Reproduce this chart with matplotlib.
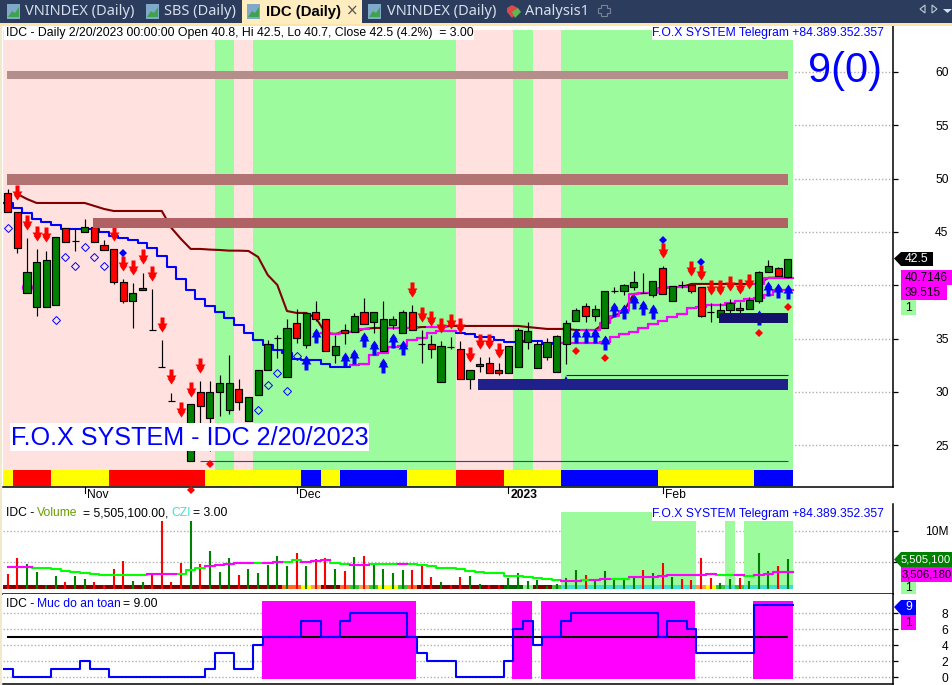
import matplotlib
matplotlib.use('Agg')
import matplotlib.pyplot as plt
from matplotlib.patches import Rectangle, Polygon
from matplotlib.path import Path

# open, high, low, close per daily bar
opens = [48.7, 46.85, 39.3, 38.0, 38.0, 38.15, 45.4, 44.2, 45.0, 45.45, 43.8, 43.4, 40.3, 38.55, 39.55, 35.8, 32.35, 29.15, 25.7, 23.5,
         30.0, 27.55, 30.0, 28.3, 30.3, 27.3, 29.7, 32.05, 35.05, 31.4, 36.45, 34.4, 37.5, 36.85, 33.45, 35.8, 35.6, 37.5, 36.55, 33.85,
         36.3, 35.55, 37.5, 34.5, 34.5, 30.95, 34.2, 34.0, 31.2, 32.45, 32.75, 32.05, 31.8, 32.35, 34.7, 32.25, 33.3, 31.85, 34.5, 36.65,
         38.05, 37.1, 36.0, 39.45, 39.45, 39.85, 39.3, 39.1, 41.6, 38.55, 40.05, 40.05, 39.85, 37.5, 37.05, 37.7, 37.9, 37.8, 38.55, 41.25,
         41.6, 40.8]
highs = [49.0, 46.85, 44.45, 43.4, 43.2, 44.55, 45.4, 45.3, 46.2, 45.95, 44.25, 43.4, 40.6, 40.2, 41.15, 39.65, 34.9, 29.9, 26.2, 28.9,
         31.0, 31.0, 31.6, 33.45, 31.2, 29.5, 32.05, 34.85, 35.35, 36.85, 37.8, 37.4, 38.55, 36.85, 35.35, 36.35, 37.4, 38.8, 37.5, 38.55,
         37.15, 37.7, 38.15, 35.8, 35.35, 34.8, 35.15, 34.8, 32.05, 33.3, 33.3, 32.75, 34.3, 36.0, 36.55, 34.85, 35.05, 35.3, 36.75, 37.9,
         38.35, 38.15, 39.5, 39.85, 40.1, 41.35, 41.15, 40.4, 41.8, 39.95, 40.4, 40.05, 39.85, 38.35, 38.35, 38.7, 38.45, 38.9, 41.35, 42.4,
         41.7, 42.5]
lows = [46.85, 43.05, 39.3, 37.1, 38.0, 38.15, 44.05, 43.2, 45.0, 44.05, 43.3, 40.1, 38.35, 36.0, 39.55, 35.8, 32.35, 29.15, 25.4, 23.5,
        27.0, 24.5, 27.75, 27.95, 28.3, 27.3, 29.7, 32.05, 33.2, 31.4, 34.6, 34.1, 36.65, 33.85, 32.75, 34.5, 35.6, 36.4, 35.55, 33.85,
        35.9, 35.55, 35.8, 32.75, 33.2, 30.95, 34.0, 31.2, 30.3, 31.85, 31.8, 31.6, 31.8, 32.35, 34.0, 32.25, 33.0, 31.85, 32.65, 36.65,
        36.55, 36.65, 36.0, 39.3, 39.1, 39.55, 39.3, 38.9, 39.2, 38.55, 39.75, 39.3, 37.0, 36.55, 37.05, 37.4, 37.0, 37.8, 38.35, 41.25,
        40.85, 40.7]
closes = [46.85, 43.5, 41.25, 42.2, 42.4, 44.55, 44.05, 44.2, 45.45, 44.05, 43.3, 40.3, 38.55, 39.3, 39.75, 35.8, 32.35, 29.15, 25.7, 28.9,
          28.7, 30.0, 30.85, 30.85, 29.05, 29.5, 32.05, 34.5, 35.05, 36.0, 35.05, 37.4, 36.85, 33.85, 34.3, 35.5, 37.1, 36.4, 37.5, 36.85,
          36.85, 37.5, 35.8, 34.5, 34.05, 34.3, 34.2, 31.2, 32.05, 32.65, 31.8, 31.8, 34.3, 35.8, 35.7, 34.5, 34.7, 35.25, 36.45, 37.7,
          37.1, 37.8, 39.45, 39.45, 40.05, 40.3, 39.3, 40.4, 39.2, 39.95, 40.05, 39.45, 37.1, 37.5, 37.7, 38.35, 37.7, 38.6, 41.25, 41.8,
          40.85, 42.5]

# trailing stops, coloured blue / magenta / dark red by state
stop_fast = [47.72, 47.25, 46.78, 46.22, 45.94, 45.66, 45.28, 45.28, 45.28, 45.28, 45.0, 44.63, 44.44, 44.25, 43.97, 43.5, 42.75, 41.72, 40.59, 39.56,
             38.72, 38.06, 37.5, 36.94, 36.28, 35.53, 34.88, 34.41, 33.94, 33.66, 33.09, 33.0, 33.0, 32.63, 32.34, 32.34, 32.53, 32.63, 33.47, 33.66,
             34.22, 34.31, 34.88, 35.06, 35.53, 35.72, 35.72, 35.53, 35.44, 35.16, 35.16, 34.88, 34.69, 34.69, 34.78, 34.78, 34.5, 34.59, 34.59, 34.59,
             34.59, 34.59, 34.69, 35.16, 35.44, 35.63, 36.0, 36.38, 36.66, 37.03, 37.31, 37.88, 37.97, 38.16, 38.16, 38.34, 38.53, 38.72, 38.81, 39.09,
             39.56, 39.56]
fast_magenta_runs = [(36, 47), (58, 82)]
stop_slow = [48.56, 48.09, 47.72, 47.72, 47.72, 47.72, 47.72, 47.72, 47.44, 47.16, 46.97, 46.97, 46.97, 46.97, 46.97, 46.97, 45.38, 44.34, 43.41, 43.41,
             43.35, 43.31, 43.25, 43.25, 43.22, 42.66, 40.97, 40.03, 37.59, 37.41, 37.41, 36.94, 35.53, 35.44, 35.63, 35.63, 35.91, 36.0, 36.0, 36.0,
             36.0, 36.0, 36.09, 36.09, 36.09, 36.19, 36.19, 36.19, 36.19, 36.19, 36.19, 36.19, 36.19, 36.09, 36.0, 35.91, 35.91, 35.91, 35.81, 35.81,
             35.81, 36.47, 37.13, 37.59, 39.19, 39.28, 39.28, 39.75, 39.84, 39.84, 40.13, 40.13, 40.13, 40.13, 40.13, 40.13, 40.13, 40.13, 40.71, 40.71,
             40.71]
slow_first_bar = 1
slow_magenta_runs = [(33, 38), (40, 43), (44, 46), (60, 71), (78, 82)]

sell_bars = [1, 2, 3, 4, 11, 12, 13, 14, 15, 16, 17, 18, 19, 20, 42, 43, 44, 45, 46, 47, 48, 49, 50, 51, 68, 71, 72, 73, 74, 75, 76, 77]
sell_tips = [48.0, 45.19, 44.16, 44.06, 44.16, 41.34, 40.97, 42.0, 40.41, 35.63, 30.75, 27.66, 29.53, 31.78, 38.91, 36.56, 36.19, 35.53, 35.91, 35.53,
             32.81, 34.03, 34.03, 33.19, 42.56, 40.88, 40.5, 39.09, 39.09, 39.47, 39.19, 39.66]
buy_bars = [31, 32, 35, 36, 37, 38, 39, 40, 41, 59, 60, 61, 62, 63, 64, 65, 66, 67, 78, 79, 80, 81]
buy_tips = [33.47, 36.0, 33.75, 34.03, 35.63, 34.88, 33.19, 35.53, 34.88, 36.0, 36.0, 36.0, 35.34, 38.44, 38.25, 39.19, 38.63, 38.25, 37.69, 40.41,
            40.22, 40.13]
hollow_bars = [0, 5, 6, 7, 8, 9, 10, 26, 27, 28, 29, 30]
hollow_vals = [45.38, 36.75, 42.66, 41.81, 43.59, 42.66, 41.81, 28.31, 30.66, 31.78, 30.09, 33.38]
blue_dot_bars = [12, 68, 72]
blue_dot_vals = [43.03, 44.25, 42.19]
red_dot_bars = [19, 21, 59, 62, 78, 81]
red_dot_vals = [20.8, 23.25, 33.84, 33.19, 35.53, 37.97]

# horizontal zones: low, high, first bar, last bar
zone_lo = [59.34, 49.4, 45.35, 30.2, 36.5]
zone_hi = [60.09, 50.45, 46.3, 31.25, 37.4]
zone_from = [-0.07, -0.07, 8.86, 48.85, 73.9]
zone_to = [81, 81, 81, 81, 81]
zone_colours = ['#B38E8A', '#B27472', '#B06163', '#20208A', '#12126A']

support_levels = [31.6, 23.5]
support_from = [58, 20]

regime_green = [(21.5, 23.5), (25.5, 46.5), (52.5, 54.5), (57.5, 81.5)]

ribbon_names = ['y', 'r', 'y', 'r', 'y', 'b', 'y', 'b', 'y', 'r', 'y', 'b', 'y', 'b']
ribbon_lengths = [1, 4, 6, 10, 10, 2, 2, 7, 5, 5, 6, 10, 10, 4]

volumes = [3.08, 5.63, 4.67, 3.4, 1.37, 2.76, 1.8, 2.76, 2.28, 1.8, 1.37, 3.93, 5.15, 1.96, 1.8, 2.92, 11.6, 1.8, 4.83, 11.6,
           4.67, 6.8, 3.4, 5.63, 2.97, 3.93, 3.24, 4.57, 5.95, 4.35, 6.43, 4.35, 5.53, 5.63, 3.93, 3.56, 5.85, 6.0, 4.83, 3.93,
           3.24, 3.77, 3.72, 4.35, 2.6, 1.8, 1.37, 2.6, 2.76, 1.48, 1.37, 1.37, 2.54, 3.24, 2.01, 2.17, 1.16, 1.59, 2.44, 3.77,
           2.97, 2.33, 3.61, 2.33, 2.33, 2.54, 3.77, 3.24, 4.83, 2.7, 2.33, 2.17, 5.63, 2.44, 1.64, 2.33, 2.44, 2.01, 6.43, 3.56,
           4.41, 5.505]
volume_sides = ('rrggggrggr' 'rrrggrrrrg' 'rgggrggggg' 'rgrrgrgrgg' 'ggrrrgrrgg'
                'rrgggggggg' 'rgggggrgrg' 'rrrrggrgggrg')
volume_ma = [4.3, 4.3, 4.25, 4.14, 4.04, 3.93, 3.61, 3.4, 3.24, 3.08, 2.97, 2.97, 2.97, 2.97, 2.97, 3.18, 3.18, 3.18, 3.18, 3.77,
             4.04, 4.41, 4.51, 4.73, 4.83, 4.89, 4.89, 4.89, 5.0, 5.1, 5.37, 5.1, 5.26, 5.42, 4.89, 4.67, 4.62, 4.62, 4.73, 4.73,
             4.78, 4.78, 4.67, 4.62, 4.35, 4.14, 4.04, 3.93, 3.61, 3.4, 3.34, 3.24, 2.81, 2.76, 2.65, 2.54, 2.38, 2.12, 2.01, 2.01,
             2.22, 2.22, 2.38, 2.38, 2.38, 2.6, 2.7, 2.7, 2.86, 2.92, 2.92, 2.92, 3.02, 3.18, 2.97, 2.97, 2.97, 2.81, 2.97, 3.18,
             3.4, 3.45]
ma_magenta_runs = [(0, 3), (15, 18), (21, 26), (27, 29), (31, 34), (36, 38), (41, 42), (58, 60), (61, 63), (65, 74), (76, 77), (78, 82)]
czi_names = ['dr'] * 29 + ['or', 'or', 'ye', 'lo', 'dr', 'dr', 'or', 'gr', 'lo', 'gr', 'ye', 'ye', 'gr', 'or'] + ['dr'] * 9 \
    + ['dg', 'dg', 'lg', 'dr', 'dr', 'gr'] + ['tq'] * 14 + ['lo', 'ye', 'gr', 'tq', 'gr', 'tq', 'tq', 'tq', 'tq', 'tq']
volume_green = [(57.5, 71.5), (74.5, 75.5), (76.5, 81.5)]

safety = [1, 0, 0, 0, 0, 1, 1, 1, 2, 1, 1, 0, 0, 0, 0, 0, 0, 0, 0, 0,
          0, 1, 3, 3, 1, 1, 4, 5, 5, 5, 5, 7, 7, 5, 5, 7, 8, 8, 8, 8,
          8, 8, 5, 3, 2, 2, 2, 0, 0, 0, 0, 0, 2, 6, 7, 4, 5, 5, 7, 8,
          8, 8, 8, 8, 8, 8, 8, 8, 5, 7, 7, 6, 3, 3, 3, 3, 3, 3, 9, 9,
          9, 9]
safety_magenta = [(26.4, 42.4), (52.4, 54.4), (55.4, 71.4), (77.4, 81.5)]

price_ticks = [25, 30, 35, 40, 45, 50, 55, 60]
price_tick_labels = ['25', '30', '35', '', '45', '50', '55', '60']
volume_ticks = [5, 10]
safety_ticks = [0, 2, 4, 6, 8]
month_bars = [8, 30, 52, 68]
month_labels = ['Nov', 'Dec', '2023', 'Feb']

SANS = 'Liberation Sans'
plt.rcParams['font.family'] = [SANS, 'DejaVu Sans']
W, H = 953, 685
PX = 0.72
n = len(closes)
bars = list(range(n))
GREEN_BG, PINK_BG = '#9CFB9C', '#FFE1DF'
UP, DOWN = '#008000', '#FF0000'
MAGENTA, BLUE = '#FF00FF', '#0000FF'
XMIN, XMAX = -0.488, 91.93

fig = plt.figure(figsize=(W / 100, H / 100), dpi=100, facecolor='white')


def pane(top, bottom):
    ax = fig.add_axes([3 / W, 1 - bottom / H, 890 / W, (bottom - top) / H])
    ax.set_xlim(XMIN, XMAX)
    ax.set_xticks([])
    for side in ['top', 'left']:
        ax.spines[side].set_visible(False)
    ax.spines['right'].set_linewidth(1.1)
    ax.spines['bottom'].set_linewidth(1.1)
    ax.yaxis.tick_right()
    ax.tick_params(axis='y', length=3.5, width=0.9, pad=36.5, labelsize=12 * PX)
    return ax


def right_align(ax):
    for label in ax.get_yticklabels():
        label.set_ha('right')


def grid(ax, ticks):
    for t in ticks:
        ax.axhline(t, color='#B0B0B0', lw=1, ls=(0, (1, 1.5)), zorder=0)


def stairs(ax, x, y, colour, lw=1.5, z=3, trim=False):
    # each bar keeps its value over its whole slot
    edges = [v - 0.5 for v in x] + [x[-1] + 0.5]
    if trim:
        edges[0] = x[0]
    ax.step(edges, list(y) + [y[-1]], where='post', color=colour, lw=lw, zorder=z)


def run_values(x, y, a, b):
    xs = [v for v in x if a <= v < b]
    return xs, [y[x.index(v)] for v in xs]


arrow_down = Path([(-2, 15), (2, 15), (2, 9), (5, 9), (3, 6), (4, 6), (0, 0), (-4, 6), (-3, 6), (-5, 9), (-2, 9), (-2, 15)], closed=True)
arrow_up = Path([(-2, -15), (2, -15), (2, -9), (5, -9), (3, -6), (4, -6), (0, 0), (-4, -6), (-3, -6), (-5, -9), (-2, -9), (-2, -15)], closed=True)

# --- price pane ---
ax = pane(24, 487)
ax.set_ylim(21.09, 64.5)
grid(ax, price_ticks)
top_frac = (487 - 30) / (487 - 24)
ax.axvspan(-0.45, 81.5, ymax=top_frac, color=PINK_BG, lw=0, zorder=1)
for a, b in regime_green:
    ax.axvspan(a, b, ymax=top_frac, color=GREEN_BG, lw=0, zorder=1.1)

ribbon_map = {'y': '#FFFF00', 'r': '#FF0000', 'b': '#0000FF'}
pos = 0
for name, length in zip(ribbon_names, ribbon_lengths):
    ax.bar(range(pos, pos + length), [1.5] * length, bottom=21.2, width=1.0, color=ribbon_map[name], lw=0, zorder=1.5)
    pos += length

stairs(ax, bars, stop_fast, BLUE)
for a, b in fast_magenta_runs:
    xs, ys = run_values(bars, stop_fast, a, b)
    stairs(ax, xs, ys, MAGENTA, z=3.1)
slow_x = bars[slow_first_bar:]
ax.plot(slow_x, stop_slow, color='#800000', lw=1.5, zorder=3)
for a, b in slow_magenta_runs:
    xs, ys = run_values(slow_x, stop_slow, a, b)
    stairs(ax, xs, ys, MAGENTA, z=3.1)
ax.plot(2, 39.84, 'o', color=MAGENTA, ms=7, zorder=3)

ax.vlines(bars, lows, highs, color='black', lw=0.85, zorder=4)
body_low = [min(o, c) for o, c in zip(opens, closes)]
body_h = [abs(o - c) for o, c in zip(opens, closes)]
body_col = [UP if c >= o else DOWN for o, c in zip(opens, closes)]
ax.bar(bars, body_h, bottom=body_low, width=0.74, color=body_col, edgecolor='black', linewidth=0.85, zorder=4.1)

ax.plot(sell_bars, sell_tips, ls='', marker=arrow_down, ms=21.6, mfc=DOWN, mec=DOWN, mew=0, zorder=5)
ax.plot(buy_bars, buy_tips, ls='', marker=arrow_up, ms=21.6, mfc=BLUE, mec=BLUE, mew=0, zorder=5)
ax.plot(hollow_bars, hollow_vals, ls='', marker='D', ms=3.6, mfc='none', mec=BLUE, mew=0.7, zorder=5)
ax.plot(blue_dot_bars, blue_dot_vals, ls='', marker='D', ms=3.6, color=BLUE, mew=0, zorder=5)
ax.plot(red_dot_bars, red_dot_vals, ls='', marker='D', ms=3.8, color=DOWN, mew=0, zorder=5, clip_on=False)
ax.plot([58], [31.1], ls='', marker='^', ms=6, color='#0000C0', mew=0, zorder=5)

ax.hlines(support_levels[0], support_from[0], 81, color='#1010A0', lw=0.8, zorder=5)
ax.hlines(support_levels[1], support_from[1], 81, color='#2040D0', lw=0.8, zorder=5)
for lo, hi, a, b, c in zip(zone_lo, zone_hi, zone_from, zone_to, zone_colours):
    ax.fill_between([a, b], lo, hi, color=c, lw=0, zorder=6)
ax.set_yticks(price_ticks)
ax.set_yticklabels(price_tick_labels)
right_align(ax)

# --- volume pane ---
FLOOR = 0.73
vx = pane(504, 594)
vx.set_ylim(-0.06, 14.3)
grid(vx, volume_ticks)
for a, b in volume_green:
    vx.fill_between([a, b], FLOOR, 13.1, color=GREEN_BG, lw=0, zorder=1)
czi_map = {'dr': '#800000', 'or': '#FF6B21', 'ye': '#FFFF00', 'lo': '#FFA050', 'gr': '#32C832',
           'dg': '#006400', 'lg': '#90EE90', 'tq': '#40E0D0'}
vx.bar(bars, [1.37 - FLOOR] * n, bottom=FLOOR, width=1.0, color=[czi_map[c] for c in czi_names], lw=0, zorder=2)
vx.vlines(bars, FLOOR, volumes, colors=[UP if s == 'g' else DOWN for s in volume_sides], lw=1.5, zorder=3)
stairs(vx, bars, volume_ma, '#00FF00', z=4, trim=True)
for a, b in ma_magenta_runs:
    xs, ys = run_values(bars, volume_ma, a, b)
    stairs(vx, xs, ys, MAGENTA, z=4.1, trim=(a == 0))
vx.set_yticks([5, 10])
vx.set_yticklabels(['', '10M'])
right_align(vx)

# --- safety pane ---
sx = pane(594, 684)
sx.set_ylim(-0.875, 10.375)
grid(sx, safety_ticks)
for a, b in safety_magenta:
    sx.fill_between([a, b], -0.25, 9.5, color=MAGENTA, lw=0, zorder=1)
sx.hlines(5, -0.07, 81, color='black', lw=1.5, zorder=2)
stairs(sx, bars, safety, BLUE)
sx.set_yticks(safety_ticks)
right_align(sx)

# --- window chrome and labels, in pixels ---
ch = fig.add_axes([0, 0, 1, 1], zorder=10)
ch.set_xlim(0, W)
ch.set_ylim(H, 0)
ch.axis('off')
ch.patch.set_alpha(0)


def box(x0, y0, x1, y1, c, z=1):
    ch.add_patch(Rectangle((x0, y0), x1 - x0, y1 - y0, fc=c, ec='none', zorder=z))


def txt(x, y, s, size=12.15, c='black', **kw):
    kw.setdefault('va', 'center')
    ch.text(x, y, s, fontsize=size * PX, color=c, zorder=3, **kw)


box(0, 0, W, 23, '#2C3C5C')
box(0, 23, W, 25.5, '#FFE6A8')
box(242, 0, 362, 24, '#FFEDC0')
box(0, 25, 2.5, H, '#F2E8CC')
for x, s, c in [(25, 'VNINDEX (Daily)', '#D6DEEC'), (164, 'SBS (Daily)', '#D6DEEC'),
                (387, 'VNINDEX (Daily)', '#D6DEEC'), (525, 'Analysis1', '#D6DEEC')]:
    txt(x, 11.5, s, 14.6, c, family='Noto Sans')
txt(266, 11.5, 'IDC (Daily)', 14.9, 'black', family=SANS, weight='bold')
txt(352, 10.5, '\u00d7', 15, '#555555', ha='center', family='DejaVu Sans')
for x in [7, 146, 247, 368]:
    box(x, 4, x + 13, 19, '#7FA9C9', 2)
    ch.add_patch(Polygon([(x + 1, 17), (x + 5, 11), (x + 8, 13), (x + 12, 7), (x + 12, 17)], fc='#3FA34D', ec='none', zorder=2))
ch.add_patch(Polygon([(507, 8), (512, 5), (518, 8), (518, 12), (512, 18), (507, 12)], fc='#D94A4A', ec='none', zorder=2))
ch.add_patch(Polygon([(512, 12), (518, 8), (521, 12), (515, 18)], fc='#5DBB4D', ec='none', zorder=2))
ch.add_patch(Polygon([(601, 5), (607, 5), (607, 8), (610, 8), (610, 13), (607, 13), (607, 16), (601, 16), (601, 13), (598, 13), (598, 8), (601, 8)],
                     fc='none', ec='#7A8496', lw=0.8, zorder=2))
ch.add_patch(Polygon([(925, 5), (925, 13), (920, 9)], fc='none', ec='#C0C8D6', lw=0.8, zorder=2))
ch.add_patch(Polygon([(932, 5), (932, 13), (937, 9)], fc='none', ec='#C0C8D6', lw=0.8, zorder=2))
ch.add_patch(Polygon([(943, 9), (952, 9), (947.5, 13)], fc='#D6DEEC', ec='none', zorder=2))

box(4, 26, 474, 40, 'white')
txt(6, 33, 'IDC - Daily 2/20/2023 00:00:00 Open 40.8, Hi 42.5, Lo 40.7, Close 42.5 (4.2%)  = 3.00', 12.2)
box(652, 26, 883, 40, 'white')
txt(652, 32.5, 'F.O.X SYSTEM Telegram +84.389.352.357', 12.1, BLUE)
box(652, 508, 883, 521, 'white')
txt(652, 514, 'F.O.X SYSTEM Telegram +84.389.352.357', 12.1, BLUE)
txt(808, 71, '9(0)', 41.5, BLUE)
box(10, 423, 369, 451, 'white')
txt(11, 437.5, 'F.O.X SYSTEM - IDC 2/20/2023', 25.1, BLUE)

txt(6, 513.5, 'IDC - ')
txt(37, 513.5, 'Volume', c='#6AA000')
txt(83, 513.5, '= 5,505,100.00,')
txt(171, 513.5, 'CZI', c='#40E0D0')
txt(193, 513.5, '= 3.00')
txt(6, 604, 'IDC - ')
txt(37, 604, 'Muc do an toan', c=BLUE)
txt(123, 604, '= 9.00')

for b, name in zip(month_bars, month_labels):
    px = 3 + (b - XMIN) / (XMAX - XMIN) * 890
    ch.plot([px, px], [487, 493], color='black', lw=0.8, zorder=2)
    txt(px + 2.5, 495, name, weight='bold' if name == '2023' else 'normal')

ch.add_patch(Polygon([(894, 258.5), (901, 252), (933, 252), (933, 266), (901, 266)], fc='black', ec='none', zorder=2))
txt(905, 258.5, '42.5', c='white')
box(901, 270, 953, 285, MAGENTA, 2)
txt(905, 277.5, '40.7146', 11.8)
box(901, 285, 947, 300, MAGENTA, 2)
txt(905, 292.5, '39.515', 11.8)
box(901, 300, 916, 315, GREEN_BG, 2)
txt(905, 307.5, '1')
ch.add_patch(Polygon([(894, 559.5), (901, 552), (953, 552), (953, 567), (901, 567)], fc=UP, ec='none', zorder=2))
txt(901, 559.5, '5,505,100', 11.3, 'white')
box(901, 567, 953, 582, MAGENTA, 2)
txt(901.5, 574.5, '3,506,180', 11.3)
box(901, 582, 916, 594, GREEN_BG, 2)
txt(905, 588, '1')
ch.add_patch(Polygon([(894, 607), (901, 600), (916, 600), (916, 615), (901, 615)], fc=BLUE, ec='none', zorder=2))
txt(905, 607.5, '9', c='white')
box(901, 615, 916, 630, MAGENTA, 2)
txt(905, 622.5, '1')

fig.savefig('out.png', dpi=100)
